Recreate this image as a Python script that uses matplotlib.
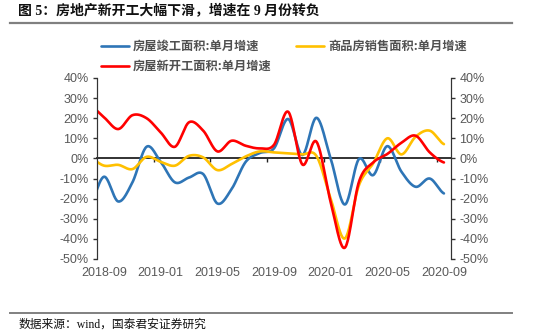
import numpy as np
import matplotlib
matplotlib.use("Agg")
import matplotlib.pyplot as plt
from matplotlib.lines import Line2D
import matplotlib.transforms as mtransforms

plt.rcParams["font.family"] = ["Liberation Sans", "Noto Sans CJK SC", "DejaVu Sans"]

# monthly single-month growth (%), 2018-08 .. 2020-09; the axis starts at 2018-09
months = ["2018-08", "2018-09", "2018-10", "2018-11", "2018-12", "2019-01", "2019-02",
          "2019-03", "2019-04", "2019-05", "2019-06", "2019-07", "2019-08", "2019-09",
          "2019-10", "2019-11", "2019-12", "2020-01", "2020-02", "2020-03", "2020-04",
          "2020-05", "2020-06", "2020-07", "2020-08", "2020-09"]
completed = [-23.0, -9.1, -21.4, -11.9, 5.8, -1.7, -11.9, -9.5, -7.8, -22.4, -15.3, -1.7,
             2.7, 5.0, 19.6, 1.7, 20.2, 0.0, -22.9, -0.3, -8.3, 6.1, -6.6, -14.1, -10.0, -17.4]
sales = [0.2, -3.6, -3.2, -5.3, 0.8, -1.7, -3.6, 1.3, 0.5, -5.8, -2.8, 1.0,
         3.5, 3.0, 2.5, 2.0, 1.2, -19.9, -39.8, -13.3, -2.5, 10.0, 2.0, 10.8, 13.8, 7.1]
new_starts = [26.3, 20.4, 14.6, 21.5, 20.0, 12.9, 5.8, 18.0, 13.8, 3.5, 8.8, 6.3,
              5.0, 6.8, 23.2, -3.0, 8.3, -21.6, -44.4, -11.6, -2.0, 2.2, 7.8, 11.3, 3.0, -2.0]
tick_labels = ["2018-09", "2019-01", "2019-05", "2019-09", "2020-01", "2020-05", "2020-09"]

series = [
    ("房屋竣工面积:单月增速", completed, "#2E75B6"),
    ("商品房销售面积:单月增速", sales, "#FFC000"),
    ("房屋新开工面积:单月增速", new_starts, "#FF0000"),
]


def smooth(y, n=24):
    """Catmull-Rom curve through the monthly points."""
    y = np.asarray(y, dtype=float)
    p = np.concatenate([[y[0]], y, [y[-1]]])
    xs, ys = [], []
    t = np.linspace(0, 1, n, endpoint=False)
    for i in range(len(y) - 1):
        p0, p1, p2, p3 = p[i:i + 4]
        ys.append(0.5 * (2 * p1 + (-p0 + p2) * t
                         + (2 * p0 - 5 * p1 + 4 * p2 - p3) * t ** 2
                         + (-p0 + 3 * p1 - 3 * p2 + p3) * t ** 3))
        xs.append(i + t)
    xs.append([len(y) - 1])
    ys.append([y[-1]])
    return np.concatenate(xs), np.concatenate(ys)


fig = plt.figure(figsize=(5.5, 3.35), dpi=100)
ax = fig.add_axes([0.1764, 0.2269, 0.6436, 0.5403])
ax2 = ax.twinx()

# x position 0 = 2018-09
start = months.index("2018-09")
handles = {}
for name, vals, color in series:
    sx, sy = smooth(vals)
    (ln,) = ax.plot(sx - start, sy, color=color, lw=1.9, solid_capstyle="round", zorder=3)
    handles[name] = ln

ax.set_xlim(-0.5, len(months) - start - 0.5)
for a in (ax, ax2):
    a.set_ylim(-50, 40)
    a.set_yticks(np.arange(-50, 41, 10))
    a.set_yticklabels([f"{v}%" for v in range(-50, 41, 10)])
    a.tick_params(axis="y", length=3, width=1, color="#333333",
                  labelsize=9, labelcolor="#595959", pad=3)
    a.spines["top"].set_visible(False)
    a.spines["left"].set_color("#333333")
    a.spines["right"].set_color("#333333")

# category axis crosses at zero, tick marks between label groups
ax.spines["bottom"].set_position(("data", 0))
ax.spines["bottom"].set_color("#222222")
ax.spines["bottom"].set_linewidth(1.3)
ax2.spines["bottom"].set_visible(False)
ax.set_xticks(np.arange(3.5, 24, 4))
ax.set_xticklabels([])
ax.tick_params(axis="x", length=3, width=1, color="#222222", direction="out")

trans = mtransforms.blended_transform_factory(ax.transData, ax.transAxes)
for k, lab in enumerate(tick_labels):
    ax.text(months.index(lab) - start, -0.075, lab, transform=trans, ha="center",
            va="center", fontsize=9, color="#595959")

order = [series[0][0], series[2][0], series[1][0]]
fig.legend([handles[n] for n in order], order, loc="upper left",
           bbox_to_anchor=(0.175, 0.895), ncol=2, frameon=False,
           prop={"family": ["Noto Sans CJK SC"], "size": 8.8, "weight": "bold"},
           labelcolor="#505050", handlelength=2.3, handletextpad=0.3,
           columnspacing=2.0, labelspacing=0.55, borderaxespad=0)

# header and footer
fig.text(0.033, 0.968, "图 5：房地产新开工大幅下滑，增速在 9 月份转负", ha="left", va="center",
         fontsize=10, fontweight="bold", color="#111111",
         family=["Liberation Serif", "Noto Sans CJK SC"])
fig.add_artist(Line2D([0.018, 0.93], [0.932, 0.932], color="#808080", lw=1.6))
fig.add_artist(Line2D([0.018, 0.93], [0.066, 0.066], color="#808080", lw=1.4))
fig.text(0.033, 0.03, "数据来源：wind，国泰君安证券研究", ha="left", va="center",
         fontsize=8.5, color="#111111", family=["Liberation Serif", "Noto Sans CJK SC"])

fig.savefig("out.png", dpi=100)
plt.close(fig)
